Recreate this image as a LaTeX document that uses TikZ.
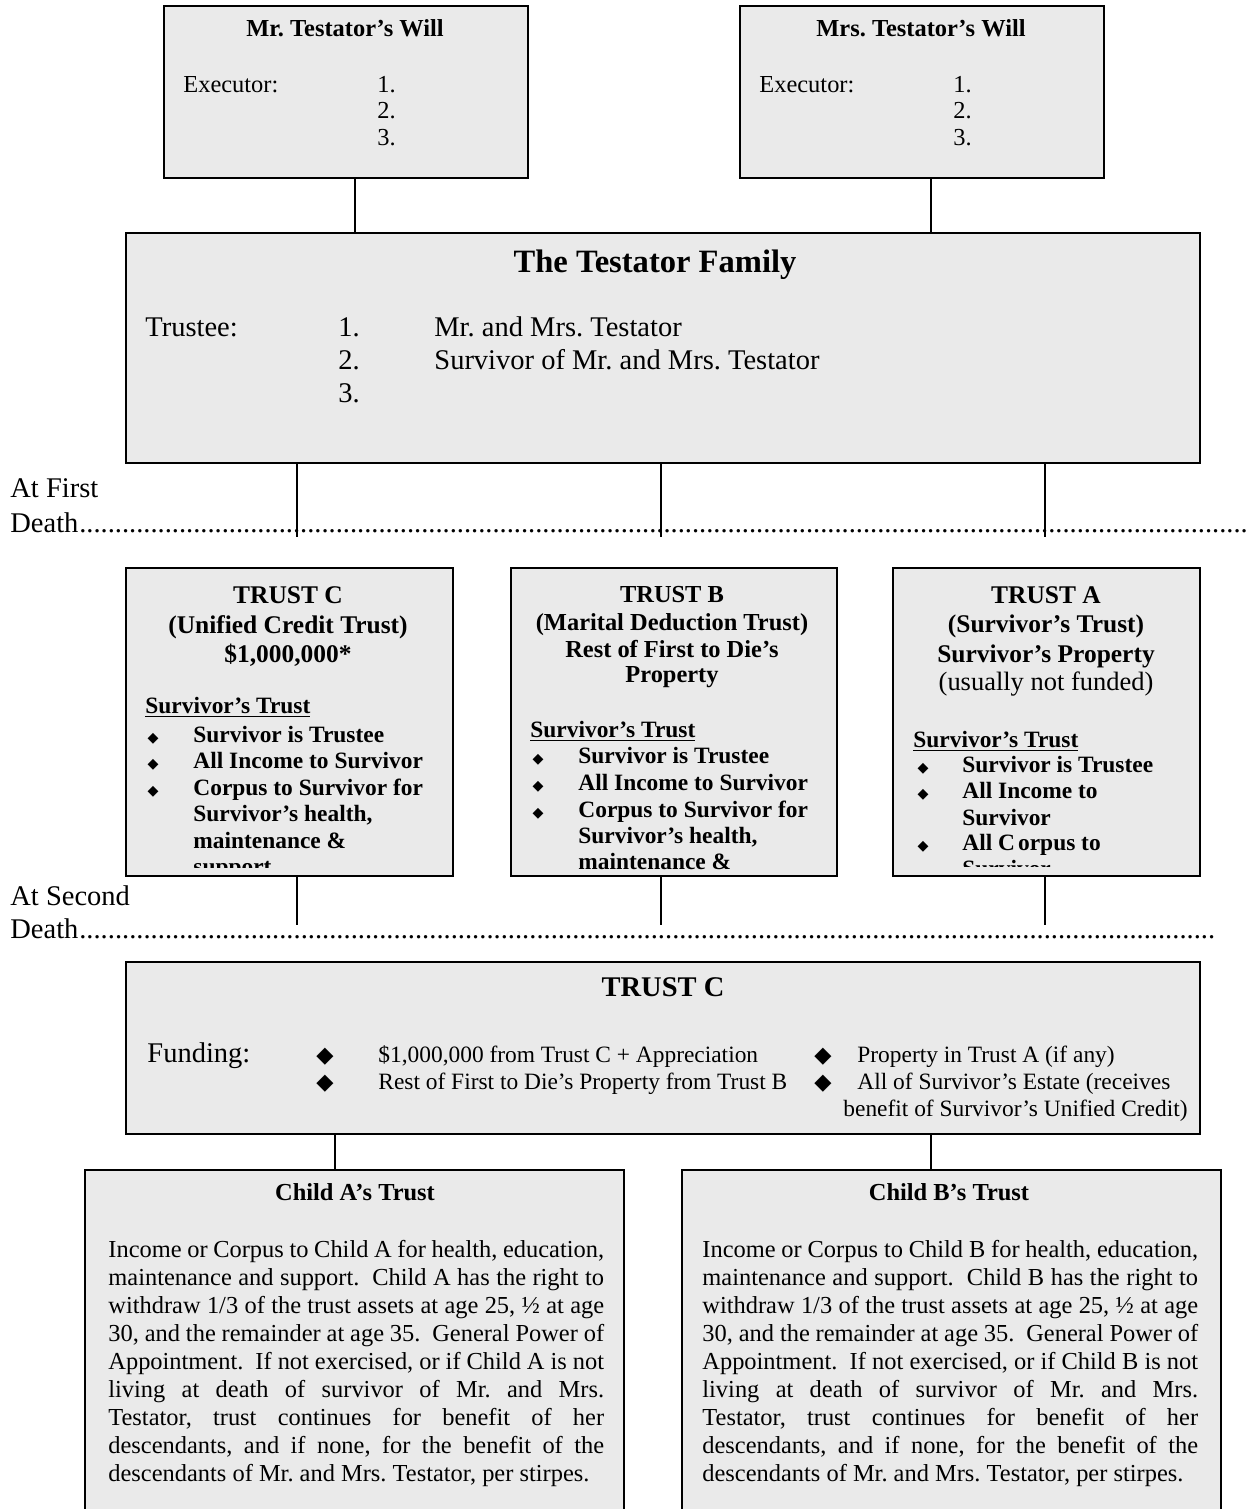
\documentclass[tikz,border=0pt]{standalone}
\usepackage{fontspec}
\setmainfont{Liberation Serif}
\newfontfamily\symfont{DejaVu Sans}
\definecolor{boxgray}{RGB}{234,234,234}
\frenchspacing
\newcommand\nohyph{\hyphenpenalty=10000 \tolerance=10000 \relax}
\begin{document}
\begin{tikzpicture}[x=0.4912pt,y=-0.4912pt,
  box/.style={draw=black, fill=boxgray, line width=1pt, inner sep=0pt, anchor=north west},
  conn/.style={line width=0.9pt},
  lt/.style={inner sep=0pt, anchor=base west},
  ct/.style={inner sep=0pt, anchor=base},
  dia/.style={inner sep=0pt, anchor=base, font=\symfont\fontsize{7}{8}\selectfont},
  bigdia/.style={inner sep=0pt, anchor=base, font=\symfont\fontsize{11}{12}\selectfont},
  fr12/.style={font=\fontsize{12}{13.8}\selectfont},
  fb12/.style={font=\bfseries\fontsize{12}{13.8}\selectfont},
  fb125/.style={font=\bfseries\fontsize{12.5}{14}\selectfont},
  fb115/.style={font=\bfseries\fontsize{11.5}{13}\selectfont},
  fr115/.style={font=\fontsize{11.5}{13}\selectfont},
  fr13/.style={font=\fontsize{13}{15}\selectfont},
  fr14/.style={font=\fontsize{14}{16}\selectfont},
  fb14/.style={font=\bfseries\fontsize{14}{16}\selectfont},
  fb16/.style={font=\bfseries\fontsize{16}{18}\selectfont},
  para/.style={inner sep=0pt, anchor=base west, text width=243.5pt, align=justify,
    font=\fontsize{12}{13.8}\selectfont}
]
\useasboundingbox (0,0) rectangle (1246,1509);

% ---------- boxes ----------
\node[box, minimum width=364*0.4912pt, minimum height=172*0.4912pt] (mrwill) at (163,5) {};
\node[box, minimum width=364*0.4912pt, minimum height=172*0.4912pt] (mrswill) at (739,5) {};
\node[box, minimum width=1074*0.4912pt, minimum height=230*0.4912pt] (family) at (125,232) {};
\node[box, minimum width=327*0.4912pt, minimum height=308*0.4912pt] (trustc) at (125,567) {};
\node[box, minimum width=326*0.4912pt, minimum height=308*0.4912pt] (trustb) at (510,567) {};
\node[box, minimum width=307*0.4912pt, minimum height=308*0.4912pt] (trusta) at (892,567) {};
\node[box, minimum width=1074*0.4912pt, minimum height=172*0.4912pt] (ctwo) at (125,961) {};
\node[box, minimum width=539*0.4912pt, minimum height=370*0.4912pt] (childa) at (84,1169) {};
\node[box, minimum width=539*0.4912pt, minimum height=370*0.4912pt] (childb) at (681,1169) {};

% ---------- connectors ----------
\draw[conn] (mrwill.south -| 355,0) -- (family.north -| 355,0);
\draw[conn] (mrswill.south -| 931,0) -- (family.north -| 931,0);
\coordinate (e1) at (297,537);
\coordinate (e2) at (661,537);
\coordinate (e3) at (1045,537);
\draw[conn] (family.south -| e1) -- (e1);
\draw[conn] (family.south -| e2) -- (e2);
\draw[conn] (family.south -| e3) -- (e3);
\coordinate (g1) at (297,925);
\coordinate (g2) at (661,925);
\coordinate (g3) at (1045,925);
\draw[conn] (trustc.south -| g1) -- (g1);
\draw[conn] (trustb.south -| g2) -- (g2);
\draw[conn] (trusta.south -| g3) -- (g3);
\draw[conn] (ctwo.south -| 335,0) -- (childa.north -| 335,0);
\draw[conn] (ctwo.south -| 931,0) -- (childb.north -| 931,0);

% ---------- wills ----------
\node[ct,fb12] (mrt) at (345,36) {Mr. Testator’s Will};
\node[lt,fr12] (mrex) at (183,92) {Executor:};
\node[lt,fr12] (mr1) at (377,92) {1.};
\node[lt,fr12] (mr2) at (377,118) {2.};
\node[lt,fr12] (mr3) at (377,145) {3.};
\node[ct,fb12] (mrst) at (921,36) {Mrs. Testator’s Will};
\node[lt,fr12] (mrsex) at (759,92) {Executor:};
\node[lt,fr12] (mrs1) at (953,92) {1.};
\node[lt,fr12] (mrs2) at (953,118) {2.};
\node[lt,fr12] (mrs3) at (953,145) {3.};

% ---------- family ----------
\node[ct,fb16] (famt) at (655,272) {The Testator Family};
\node[lt,fr14] (trl) at (145,336) {Trustee:};
\node[lt,fr14] (tr1) at (338,336) {1.};
\node[lt,fr14] (tr1t) at (434,336) {Mr. and Mrs. Testator};
\node[lt,fr14] (tr2) at (338,369) {2.};
\node[lt,fr14] (tr2t) at (434,369) {Survivor of Mr. and Mrs. Testator};
\node[lt,fr14] (tr3) at (338,402) {3.};

% ---------- death lines ----------
\node[lt,fr14] (atfirst) at (10,497) {At First};
\node[lt,fr14] (death1) at (10,532) {Death};
\node[lt,fr14] (dots1) at (death1.base east) {\hbox to 574pt{\xleaders\hbox{.}\hfill}};
\node[lt,fr14] (atsecond) at (10,905) {At Second};
\node[lt,fr14] (death2) at (10,938) {Death};
\node[lt,fr14] (dots2) at (death2.base east) {\hbox to 558pt{\xleaders\hbox{.}\hfill}};

% ---------- trust C ----------
\node[ct,fb125] (tc1) at (288,603) {TRUST C};
\node[ct,fb125] (tc2) at (288,633) {(Unified Credit Trust)};
\node[ct,fb125] (tc3) at (288,662) {\$1,000,000*};
\begin{scope}
\clip (127,569) rectangle (450,867);
\node[lt,fb115] (tch) at (145,713) {\underline{Survivor’s Trust}};
\node[dia] (tcd1) at (153,742) {◆};
\node[dia] (tcd2) at (153,768) {◆};
\node[dia] (tcd3) at (153,795) {◆};
\node[lt,fb115] (tcb1) at (193,742) {Survivor is Trustee};
\node[lt,fb115] (tcb2) at (193,768) {All Income to Survivor};
\node[lt,fb115] (tcb3) at (193,795) {Corpus to Survivor for};
\node[lt,fb115] (tcb4) at (193,821) {Survivor’s health,};
\node[lt,fb115] (tcb5) at (193,848) {maintenance \&};
\node[lt,fb115] (tcb6) at (193,874) {support};
\end{scope}

% ---------- trust B ----------
\node[ct,fb12] (tb1) at (672,602) {TRUST B};
\node[ct,fb12] (tb2) at (672,630) {(Marital Deduction Trust)};
\node[ct,fb12] (tb3) at (672,657) {Rest of First to Die’s};
\node[ct,fb12] (tb4) at (672,682) {Property};
\begin{scope}
\clip (512,569) rectangle (834,872);
\node[lt,fb115] (tbh) at (530,737) {\underline{Survivor’s Trust}};
\node[dia] (tbd1) at (538,763) {◆};
\node[dia] (tbd2) at (538,790) {◆};
\node[dia] (tbd3) at (538,817) {◆};
\node[lt,fb115] (tbb1) at (578,763) {Survivor is Trustee};
\node[lt,fb115] (tbb2) at (578,790) {All Income to Survivor};
\node[lt,fb115] (tbb3) at (578,817) {Corpus to Survivor for};
\node[lt,fb115] (tbb4) at (578,843) {Survivor’s health,};
\node[lt,fb115] (tbb5) at (578,869) {maintenance \&};
\end{scope}

% ---------- trust A ----------
\node[ct,fb125] (ta1) at (1046,603) {TRUST A};
\node[ct,fb125] (ta2) at (1046,632) {(Survivor’s Trust)};
\node[ct,fb125] (ta3) at (1046,662) {Survivor’s Property};
\node[ct,fr13] (ta4) at (1046,690) {(usually not funded)};
\begin{scope}
\clip (894,569) rectangle (1197,866);
\node[lt,fb115] (tah) at (913,747) {\underline{Survivor’s Trust}};
\node[dia] (tad1) at (923,772) {◆};
\node[dia] (tad2) at (923,798) {◆};
\node[dia] (tad3) at (923,850) {◆};
\node[lt,fb115] (tab1) at (962,772) {Survivor is Trustee};
\node[lt,fb115] (tab2) at (962,798) {All Income to};
\node[lt,fb115] (tab3) at (962,825) {Survivor};
\node[lt,fb115] (tab4) at (962,850) {All C\kern1.5pt orpus to};
\node[lt,fb115] (tab5) at (962,876) {Survivor};
\end{scope}

% ---------- trust C (second death) ----------
\node[ct,fb14] (c2t) at (663,996) {TRUST C};
\node[lt,fr14] (fund) at (147,1062) {Funding:};
\node[bigdia] (fd1) at (325,1062) {◆};
\node[bigdia] (fd2) at (325,1089) {◆};
\node[bigdia] (fd3) at (823,1062) {◆};
\node[bigdia] (fd4) at (823,1089) {◆};
\node[lt,fr115] (ft1) at (378,1062) {\$1,000,000 from Trust C + Appreciation};
\node[lt,fr115] (ft2) at (378,1089) {Rest of First to Die’s Property from Trust B};
\node[lt,fr115] (ft3) at (857,1062) {Property in Trust A (if any)};
\node[lt,fr115] (ft4) at (857,1089) {All of Survivor’s Estate (receives};
\node[lt,fr115] (ft5) at (843,1116) {benefit of Survivor’s Unified Credit)};

% ---------- children ----------
\node[ct,fb12] (cat) at (355,1200) {Child A’s Trust};
\node[para] (catext) at (108,1257) {\nohyph Income or Corpus to Child A for health, education,\linebreak
maintenance and support.~ Child A has the right to\linebreak
withdraw 1/3 of the trust assets at age 25, ½ at age\linebreak
30, and the remainder at age 35.~ General Power of\linebreak
Appointment.~ If not exercised, or if Child A is not\linebreak
living at death of survivor of Mr. and Mrs.\linebreak
Testator, trust continues for benefit of her\linebreak
descendants, and if none, for the benefit of the\linebreak
descendants of Mr. and Mrs. Testator, per stirpes.};
\node[ct,fb12] (cbt) at (949,1200) {Child B’s Trust};
\node[para] (cbtext) at (702,1257) {\nohyph Income or Corpus to Child B for health, education,\linebreak
maintenance and support.~ Child B has the right to\linebreak
withdraw 1/3 of the trust assets at age 25, ½ at age\linebreak
30, and the remainder at age 35.~ General Power of\linebreak
Appointment.~ If not exercised, or if Child B is not\linebreak
living at death of survivor of Mr. and Mrs.\linebreak
Testator, trust continues for benefit of her\linebreak
descendants, and if none, for the benefit of the\linebreak
descendants of Mr. and Mrs. Testator, per stirpes.};
\end{tikzpicture}
\end{document}
